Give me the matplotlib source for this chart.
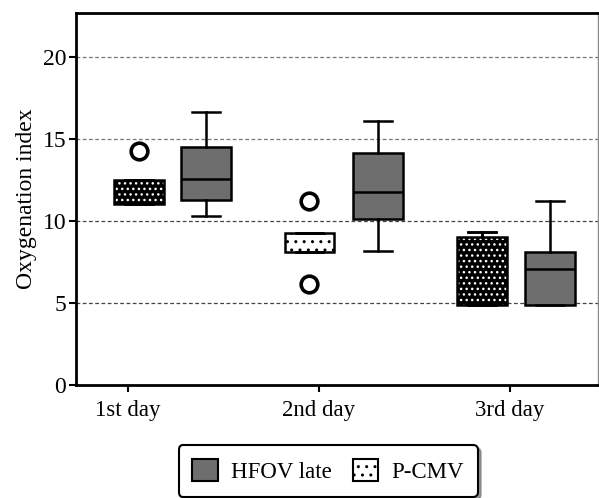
import matplotlib
matplotlib.use("Agg")
import matplotlib.pyplot as plt
from matplotlib.patches import Patch

plt.rcParams['font.family'] = ['Liberation Serif', 'DejaVu Serif']

days = ["1st day", "2nd day", "3rd day"]
# P-CMV statistics per day
pcmv_q1 = [11.05, 8.1, 4.9]
pcmv_med = [11.8, 8.7, 7.0]
pcmv_q3 = [12.5, 9.27, 9.02]
pcmv_wlo = [11.05, 8.1, 4.9]
pcmv_whi = [12.5, 9.27, 9.33]
pcmv_fliers = [[14.3], [11.2, 6.15], []]
# HFOV late statistics per day
hfov_q1 = [11.28, 10.12, 4.9]
hfov_med = [12.6, 11.77, 7.07]
hfov_q3 = [14.5, 14.15, 8.1]
hfov_wlo = [10.3, 8.17, 4.9]
hfov_whi = [16.65, 16.1, 11.2]
hfov_fliers = [[], [], []]

yticks = [0, 5, 10, 15, 20]

pcmv_off = [0.058, -0.05, -0.147]
hfov_off = [0.408, 0.309, 0.209]
box_w = 0.26
gray = '#6e6e6e'

fig = plt.figure(figsize=(5.99, 4.98), dpi=100)
ax = fig.add_axes([76/599, 1-385/498, (598-76)/599, (385-13)/498])


def stats(q1, med, q3, wlo, whi, fl):
    return [dict(q1=a, med=b, q3=c, whislo=d, whishi=e, fliers=f)
            for a, b, c, d, e, f in zip(q1, med, q3, wlo, whi, fl)]


hs = stats(hfov_q1, hfov_med, hfov_q3, hfov_wlo, hfov_whi, hfov_fliers)
ps = stats(pcmv_q1, pcmv_med, pcmv_q3, pcmv_wlo, pcmv_whi, pcmv_fliers)
hpos = [i + o for i, o in enumerate(hfov_off)]
ppos = [i + o for i, o in enumerate(pcmv_off)]

lw = 1.8
common = dict(widths=box_w, patch_artist=True, manage_ticks=False,
              whiskerprops=dict(color='black', lw=lw),
              capprops=dict(color='black', lw=lw),
              flierprops=dict(marker='o', markerfacecolor='white',
                              markeredgecolor='black', markeredgewidth=2.6,
                              markersize=12),
              capwidths=box_w * 0.55)

ax.bxp(hs, positions=hpos, medianprops=dict(color='black', lw=lw),
       boxprops=dict(facecolor=gray, edgecolor='black', lw=lw), zorder=3, **common)

# P-CMV: hatched fill layer (medians hidden)
bp = ax.bxp(ps, positions=ppos, medianprops=dict(lw=0),
            boxprops=dict(facecolor='black', edgecolor='white', lw=0), zorder=3, **common)
for i, b in enumerate(bp['boxes']):
    if i == 1:
        b.set_facecolor('white')
        b.set_edgecolor('black')
        b.set_hatch('..')
    else:
        b.set_hatch('...')
# P-CMV outline layer
ax.bxp(ps, positions=ppos, showfliers=False, medianprops=dict(lw=0),
       boxprops=dict(facecolor='none', edgecolor='black', lw=lw), zorder=4,
       **{k: v for k, v in common.items() if k != 'flierprops'})

ax.set_xlim(-0.272, 2.46)
ax.set_ylim(0, 22.7)
ax.set_yticks(yticks)
ax.set_yticklabels([str(t) for t in yticks], fontsize=17)
ax.set_xticks(range(len(days)))
ax.set_xticklabels(days, fontsize=16.5)
ax.set_ylabel("Oxygenation index", fontsize=17, labelpad=4)
ax.tick_params(axis='both', direction='out', width=1.5, length=5)
ax.tick_params(axis='x', pad=6)
ax.tick_params(axis='y', pad=2)

for t in yticks[1:]:
    ax.axhline(t, color='#444444' if t <= 10 else '#777777', ls=(0, (3, 2)),
               lw=0.9, zorder=1)

for s in ['left', 'bottom', 'top']:
    ax.spines[s].set_linewidth(2)
ax.spines['right'].set_linewidth(1)
ax.spines['right'].set_color('#888888')

handles = [Patch(facecolor=gray, edgecolor='black', lw=1.5, label='HFOV late'),
           Patch(facecolor='white', edgecolor='black', lw=1.5, hatch='..', label='P-CMV')]
leg = fig.legend(handles=handles, loc='lower center', bbox_to_anchor=(0.548, -0.02),
                 ncol=2, fontsize=16.5, frameon=True, fancybox=True, shadow=True,
                 edgecolor='black', handlelength=1.1, handleheight=1.1,
                 columnspacing=0.9, borderpad=0.6, handletextpad=0.6)
leg.get_frame().set_linewidth(1.5)

fig.savefig("out.png", dpi=100)
